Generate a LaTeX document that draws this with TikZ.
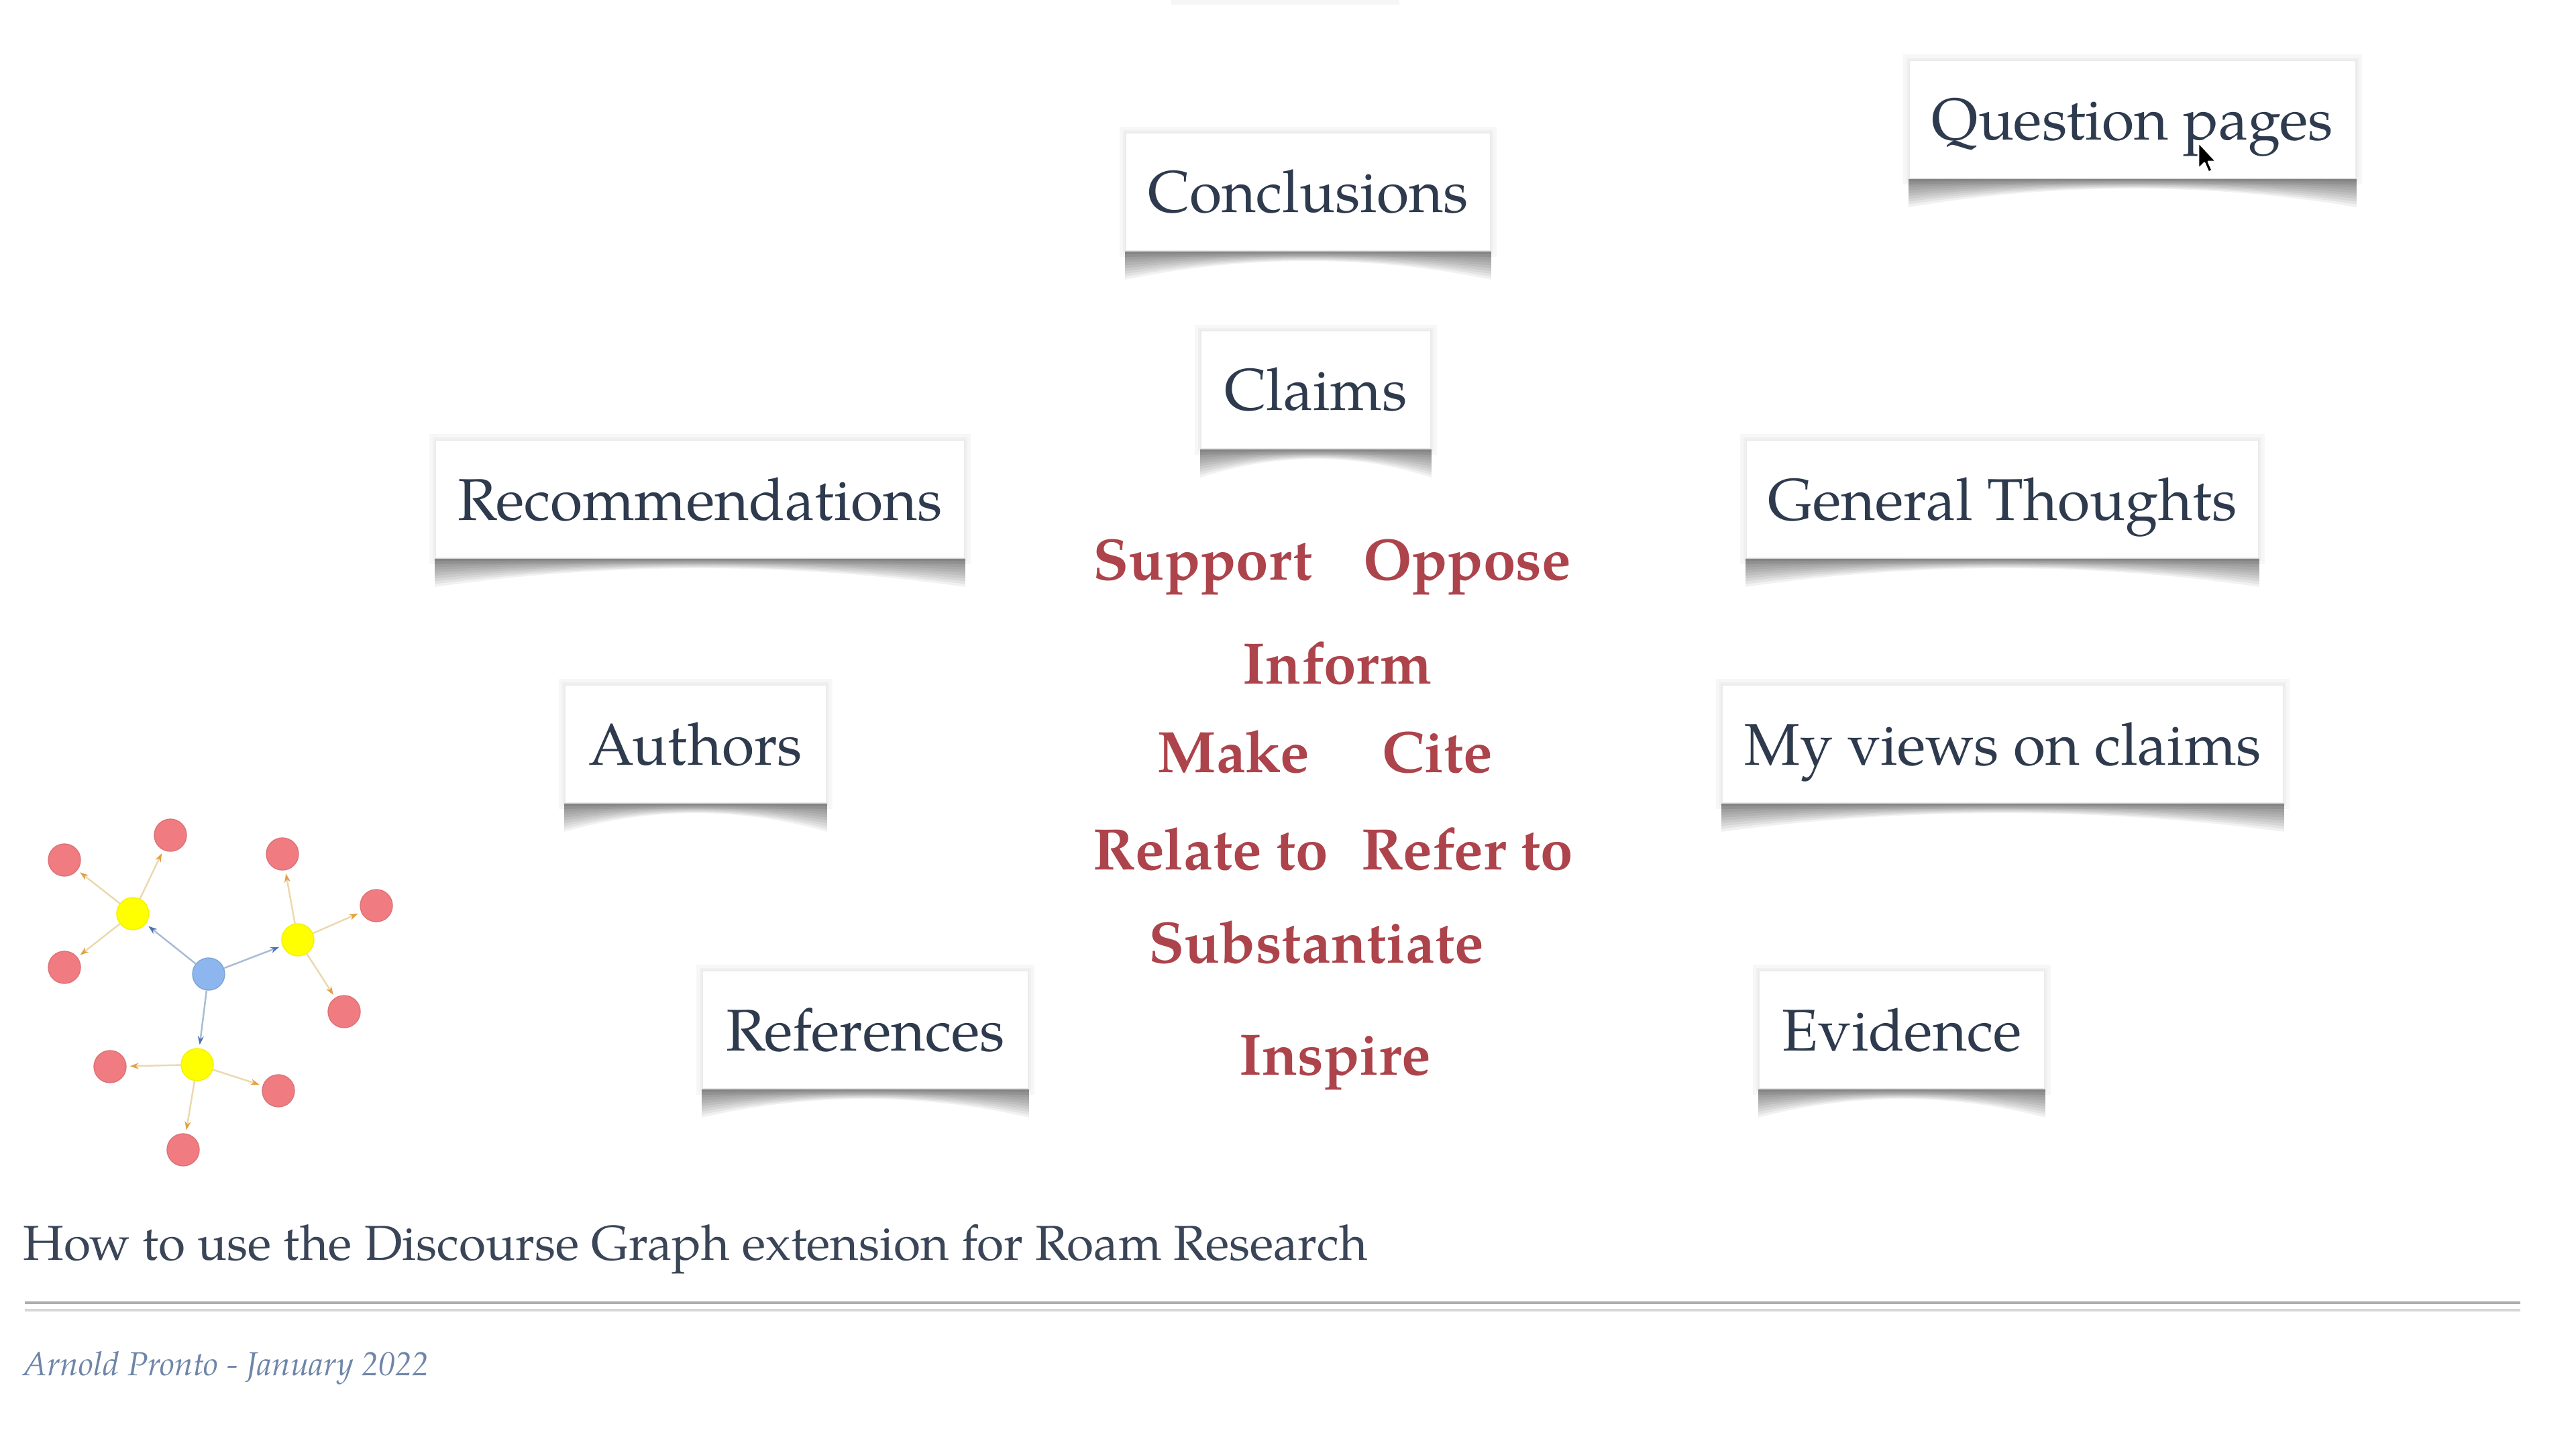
\documentclass[tikz,border=0pt]{standalone}
\usepackage{fontspec}
\setmainfont{TeX Gyre Pagella}
\usetikzlibrary{calc,arrows.meta}

\definecolor{ink}{HTML}{2E3A4D}
\definecolor{rel}{HTML}{AD434B}
\definecolor{titleink}{HTML}{3A4557}
\definecolor{byline}{HTML}{6E86A8}
\definecolor{nodered}{HTML}{F07C81}
\definecolor{nodeyellow}{HTML}{FFFF00}
\definecolor{nodeblue}{HTML}{8DB6EE}
\definecolor{hubedge}{HTML}{A9BBD6}
\definecolor{hubtip}{HTML}{4C72B0}
\definecolor{leafedge}{HTML}{EBD9AE}
\definecolor{leaftip}{HTML}{E3A040}

\tikzset{
  card/.style={fill=white, draw=black!8, line width=0.5pt,
    preaction={draw=black!3, line width=5pt},
    preaction={draw=black!6, line width=2.5pt},
    minimum height=1.76cm, text height=0.62cm, text depth=0pt, inner sep=0pt,
    text=ink, font=\fontsize{25}{30}\selectfont},
  relation/.style={anchor=base, text=rel, inner sep=0pt,
    font=\bfseries\fontsize{24.8}{30}\selectfont},
  netnode/.style={circle, minimum size=0.48cm, inner sep=0pt, line width=0.4pt},
  hublink/.style={draw=hubedge, line width=0.7pt, shorten >=0.05cm,
    -{Stealth[length=0.13cm, width=0.09cm, color=hubtip]}},
  leaflink/.style={draw=leafedge, line width=0.7pt, shorten >=0.05cm,
    -{Stealth[length=0.13cm, width=0.09cm, color=leaftip]}},
}

% curled-paper shadow under a card
\newcommand\cardshadow[1]{%
  \foreach \s in {1,0.9,0.8,0.7,0.6,0.5,0.4,0.3,0.2,0.1}{
    \fill[black, opacity=0.055]
      (#1.south west) -- ($(#1.south west)+(0,-0.42*\s)$)
      .. controls ($(#1.south west)!0.33!(#1.south east)+(0,-0.05*\s)$)
      and ($(#1.south west)!0.67!(#1.south east)+(0,-0.05*\s)$) ..
      ($(#1.south east)+(0,-0.42*\s)$) -- (#1.south east) -- cycle;
  }}

\begin{document}
\begin{tikzpicture}
\useasboundingbox (0,0) rectangle (38.4,-21.6);
\fill[white] (0,0) rectangle (38.4,-21.6);

% faint shadow of a card just above the top edge
\fill[black, opacity=0.035] (17.46,0) rectangle (20.86,-0.07);

% cards
\node[card, minimum width=5.44cm] (conclusions) at (19.50,-2.86) {Conclusions};
\node[card, minimum width=6.66cm] (questions) at (31.79,-1.78) {Question pages};
\node[card, minimum width=3.43cm] (claims) at (19.615,-5.81) {Claims};
\node[card, minimum width=7.89cm] (recs) at (10.435,-7.44) {Recommendations};
\node[card, minimum width=7.64cm] (thoughts) at (29.85,-7.44) {General Thoughts};
\node[card, minimum width=3.90cm] (authors) at (10.37,-11.09) {Authors};
\node[card, minimum width=8.37cm] (views) at (29.855,-11.09) {My views on claims};
\node[card, minimum width=4.86cm] (refs) at (12.90,-15.35) {References};
\node[card, minimum width=4.26cm] (evidence) at (28.35,-15.35) {Evidence};

\foreach \c in {conclusions,questions,claims,recs,thoughts,authors,views,refs,evidence}
  {\cardshadow{\c}}

% mouse pointer
\filldraw[fill=black, draw=white, line width=0.8pt, line join=round]
  (32.77,-2.12) -- ++(0,-0.40) -- ++(0.09,0.09) -- ++(0.06,-0.14)
  -- ++(0.06,0.03) -- ++(-0.06,0.13) -- ++(0.12,0) -- cycle;

% relation words
\node[relation] (support) at (17.93,-8.64) {Support};
\node[relation] (oppose) at (21.87,-8.64) {Oppose};
\node[relation] (inform) at (19.94,-10.19) {Inform};
\node[relation] (make) at (18.39,-11.51) {Make};
\node[relation] (cite) at (21.43,-11.51) {Cite};
\node[relation] (relate) at (18.05,-12.96) {Relate to};
\node[relation] (refer) at (21.87,-12.96) {Refer to};
\node[relation] (subst) at (19.62,-14.35) {Substantiate};
\node[relation] (inspire) at (19.90,-16.02) {Inspire};

% small discourse graph
\node[netnode, fill=nodeblue, draw=nodeblue!90!black] (hub) at (3.11,-14.52) {};
\node[netnode, fill=nodeyellow, draw=nodeyellow!95!black] (ya) at (1.98,-13.62) {};
\node[netnode, fill=nodeyellow, draw=nodeyellow!95!black] (yb) at (4.44,-14.01) {};
\node[netnode, fill=nodeyellow, draw=nodeyellow!95!black] (yc) at (2.94,-15.87) {};
\foreach \n/\x/\y in {ra/0.96/-12.82, rb/2.54/-12.45, rc/0.96/-14.42,
                      rd/4.21/-12.73, re/5.61/-13.50, rf/5.13/-15.08,
                      rg/1.64/-15.90, rh/4.15/-16.26, ri/2.73/-17.14}
  \node[netnode, fill=nodered, draw=nodered!92!black] (\n) at (\x,\y) {};

\draw[hublink] (hub) -- (ya);
\draw[hublink] (hub) -- (yb);
\draw[hublink] (hub) -- (yc);
\draw[leaflink] (ya) -- (ra);
\draw[leaflink] (ya) -- (rb);
\draw[leaflink] (ya) -- (rc);
\draw[leaflink] (yb) -- (rd);
\draw[leaflink] (yb) -- (re);
\draw[leaflink] (yb) -- (rf);
\draw[leaflink] (yc) -- (rg);
\draw[leaflink] (yc) -- (rh);
\draw[leaflink] (yc) -- (ri);

% footer
\node[anchor=base west, inner sep=0pt, text=titleink, font=\fontsize{20.8}{25}\selectfont]
  (title) at (0.34,-18.78) {How to use the Discourse Graph extension for Roam Research};
\draw[black!32, line width=1.2pt] (0.37,-19.42) -- (37.57,-19.42);
\draw[black!16, line width=1.2pt] (0.37,-19.53) -- (37.57,-19.53);
\node[anchor=base west, inner sep=0pt, text=byline, font=\itshape\fontsize{14.1}{18}\selectfont]
  (byline) at (0.34,-20.50) {Arnold Pronto - January 2022};
\end{tikzpicture}
\end{document}
